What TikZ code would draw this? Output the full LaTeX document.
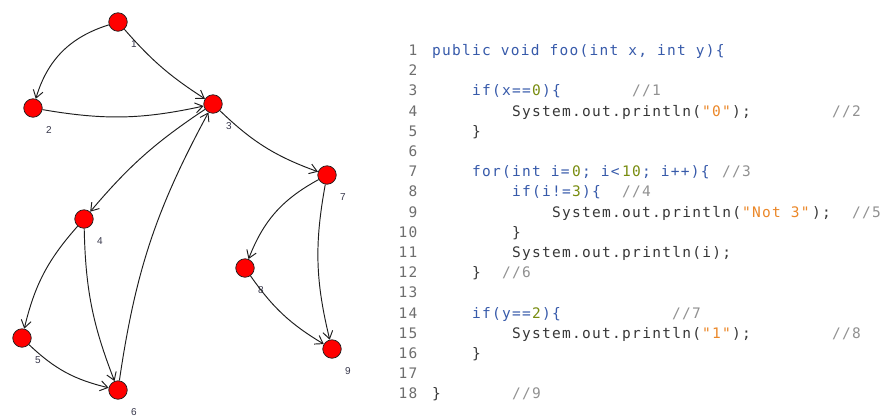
\documentclass[tikz,border=0pt]{standalone}
\usepackage{fontspec}
\setmainfont{Liberation Sans}
\newfontfamily\codefont[LetterSpace=8.8]{DejaVu Sans Mono}
\usetikzlibrary{arrows.meta}

\definecolor{kw}{RGB}{55,90,170}
\definecolor{num}{RGB}{120,140,15}
\definecolor{str}{RGB}{235,135,40}
\definecolor{cmt}{RGB}{145,145,145}
\definecolor{lncol}{RGB}{110,110,110}
\definecolor{txt}{RGB}{55,55,55}
\definecolor{labelcol}{RGB}{55,55,75}
\definecolor{edgecol}{RGB}{30,30,30}

% one coloured piece of source text, placed on a 10pt character grid
\newcommand\cseg[4]{\node[codetxt, text=#3] (s#2c#1) at ({432+10*#1},{55.5+20.2*(#2-1)}) {#4};}
% a line number, right aligned before the code column
\newcommand\lnum[1]{\node[codetxt, text=lncol, anchor=base east] (ln#1) at (417.5,{55.5+20.2*(#1-1)}) {#1};}

\begin{document}
\begin{tikzpicture}[x=1pt,y=-1pt,
  vertex/.style={circle, draw=edgecol, fill=red, line width=0.7pt, minimum size=18.5pt, inner sep=0pt},
  vlabel/.style={font=\fontsize{10}{11}\selectfont, text=labelcol, inner sep=0pt},
  edge/.style={draw=edgecol, line width=0.95pt, -{Straight Barb[length=7.5pt,width=10pt,line width=0.95pt]}},
  codetxt/.style={font=\codefont\fontsize{14.5}{17}\selectfont, inner sep=0pt, anchor=base west}]
\useasboundingbox (0,0) rectangle (884,416);
\fill[white] (0,0) rectangle (884,416);

% control flow graph
\node[vertex] (n1) at (118,22) {};
\node[vertex] (n2) at (33,108) {};
\node[vertex] (n3) at (213,104) {};
\node[vertex] (n4) at (84,219) {};
\node[vertex] (n5) at (22,338) {};
\node[vertex] (n6) at (118,390) {};
\node[vertex] (n7) at (327,175) {};
\node[vertex] (n8) at (245,268) {};
\node[vertex] (n9) at (332,349) {};

\foreach \i in {1,...,9}
  \node[vlabel] (l\i) at ([shift={(16,22)}]n\i.center) {\i};

\draw[edge] (n1) to[bend right=28] (n2);
\draw[edge] (n1) to[bend right=8] (n3);
\draw[edge] (n2) to[bend right=11] (n3);
\draw[edge] (n3) to[bend right=8] (n4);
\draw[edge] (n3) to[bend right=12] (n7);
\draw[edge] (n4) to[bend right=14] (n5);
\draw[edge] (n4) to[bend right=10] (n6);
\draw[edge] (n5) to[bend right=15] (n6);
\draw[edge] (n6) to[bend left=10] (n3);
\draw[edge] (n7) to[bend right=20] (n8);
\draw[edge] (n7) to[bend right=12] (n9);
\draw[edge] (n8) to[bend right=12] (n9);

% source listing
\foreach \k in {1,...,18} {\lnum{\k}}

\cseg{0}{1}{kw}{public void foo(int x, int y)\{}

\cseg{4}{3}{kw}{if(x==}
\cseg{10}{3}{num}{0}
\cseg{11}{3}{kw}{)\{}
\cseg{20}{3}{cmt}{//1}

\cseg{8}{4}{txt}{System.out.println(}
\cseg{27}{4}{str}{"0"}
\cseg{30}{4}{txt}{);}
\cseg{40}{4}{cmt}{//2}

\cseg{4}{5}{txt}{\}}

\cseg{4}{7}{kw}{for(int i=}
\cseg{14}{7}{num}{0}
\cseg{15}{7}{kw}{; i<}
\cseg{19}{7}{num}{10}
\cseg{21}{7}{kw}{; i++)\{}
\cseg{29}{7}{cmt}{//3}

\cseg{8}{8}{kw}{if(i!=}
\cseg{14}{8}{num}{3}
\cseg{15}{8}{kw}{)\{}
\cseg{19}{8}{cmt}{//4}

\cseg{12}{9}{txt}{System.out.println(}
\cseg{31}{9}{str}{"Not 3"}
\cseg{38}{9}{txt}{);}
\cseg{42}{9}{cmt}{//5}

\cseg{8}{10}{txt}{\}}

\cseg{8}{11}{txt}{System.out.println(i);}

\cseg{4}{12}{txt}{\}}
\cseg{7}{12}{cmt}{//6}

\cseg{4}{14}{kw}{if(y==}
\cseg{10}{14}{num}{2}
\cseg{11}{14}{kw}{)\{}
\cseg{24}{14}{cmt}{//7}

\cseg{8}{15}{txt}{System.out.println(}
\cseg{27}{15}{str}{"1"}
\cseg{30}{15}{txt}{);}
\cseg{40}{15}{cmt}{//8}

\cseg{4}{16}{txt}{\}}

\cseg{0}{18}{txt}{\}}
\cseg{8}{18}{cmt}{//9}
\end{tikzpicture}
\end{document}
